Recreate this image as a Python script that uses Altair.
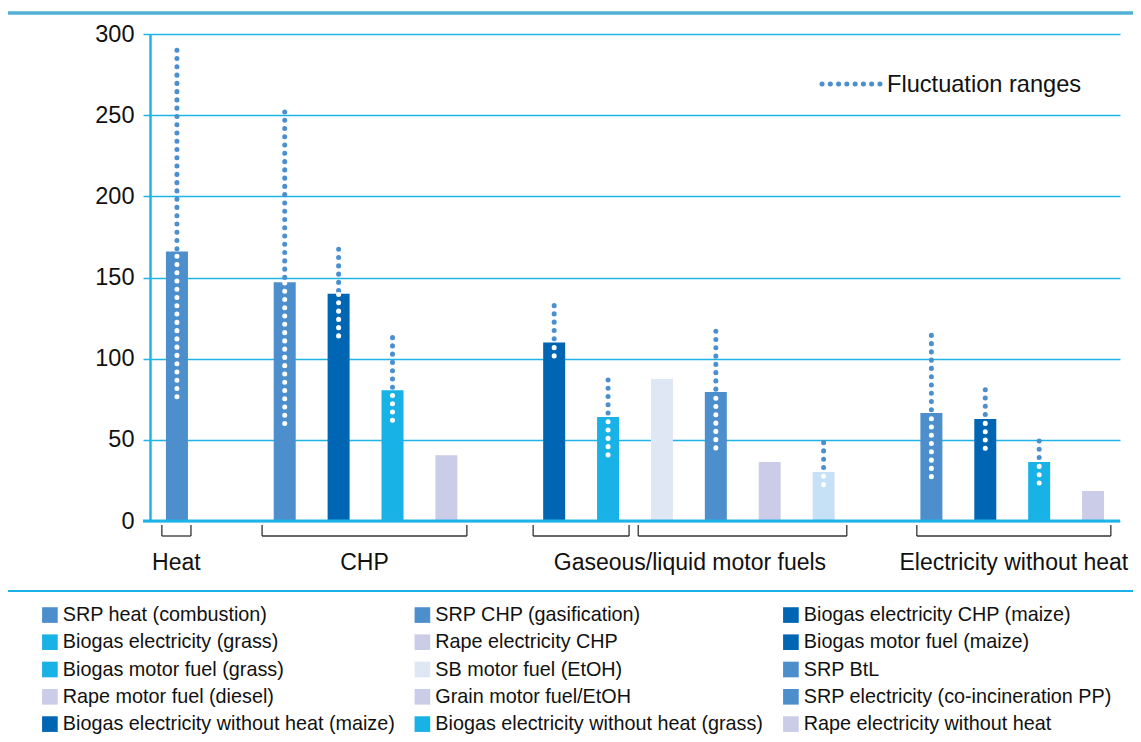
import altair as alt
import pandas as pd

FONT = "Liberation Sans"

# ---- data -------------------------------------------------------------
names = [
    "SRP heat (combustion)", "SRP CHP (gasification)", "Biogas electricity CHP (maize)",
    "Biogas electricity (grass)", "Rape electricity CHP", "Biogas motor fuel (maize)",
    "Biogas motor fuel (grass)", "SB motor fuel (EtOH)", "SRP BtL",
    "Rape motor fuel (diesel)", "Grain motor fuel/EtOH", "SRP electricity (co-incineration PP)",
    "Biogas electricity without heat (maize)", "Biogas electricity without heat (grass)",
    "Rape electricity without heat",
]
groups_of_bar = ["Heat", "CHP", "CHP", "CHP", "CHP",
                 "Gaseous/liquid motor fuels", "Gaseous/liquid motor fuels",
                 "Gaseous/liquid motor fuels", "Gaseous/liquid motor fuels",
                 "Gaseous/liquid motor fuels", "Gaseous/liquid motor fuels",
                 "Electricity without heat", "Electricity without heat",
                 "Electricity without heat", "Electricity without heat"]
values = [166, 147, 140, 80.5, 40.5, 110, 64, 87.5, 79.5, 36.3, 30.2, 66.5, 62.8, 36.4, 18.5]
range_low = [76.5, 60, 114, 62, None, 101.7, 40.7, None, 45, None, 22.4, 27.3, 44.8, 23.4, None]
range_high = [290, 252, 167.4, 113, None, 132.7, 86.9, None, 116.9, None, 48.3, 114.4, 80.9, 49.3, None]

bar_colors = ["#4d8fcc", "#4d8fcc", "#0066b3", "#19b2e6", "#cbcde8", "#0066b3",
              "#19b2e6", "#e0e7f4", "#4d8fcc", "#cbcde8", "#c6e1f5", "#4d8fcc",
              "#0066b3", "#19b2e6", "#cbcde8"]
legend_colors = ["#4d8fcc", "#4d8fcc", "#0066b3", "#19b2e6", "#cbcde8", "#0066b3",
                 "#19b2e6", "#e0e7f4", "#4d8fcc", "#cbcde8", "#cbcde8", "#4d8fcc",
                 "#0066b3", "#19b2e6", "#cbcde8"]

group_names = ["Heat", "CHP", "Gaseous/liquid motor fuels", "Electricity without heat"]
# brackets under the axis (in slot units), with the group they belong to
bracket_start = [0.22, 2.08, 7.11, 9.06, 14.23]
bracket_end = [0.76, 5.88, 8.89, 12.93, 17.83]
bracket_group = ["Heat", "CHP", "Gaseous/liquid motor fuels",
                 "Gaseous/liquid motor fuels", "Electricity without heat"]

# ---- derived tables ---------------------------------------------------
pos = []
slot = 0
prev = None
for g in groups_of_bar:
    if prev is not None and g != prev:
        slot += 1  # one empty slot between groups
    pos.append(slot + 0.5)
    slot += 1
    prev = g
n_slots = slot

bars = pd.DataFrame({"name": names, "value": values, "pos": pos,
                     "bar_color": bar_colors, "low": range_low, "high": range_high})
ranges = bars.dropna(subset=["low", "high"])

# legend is laid out column by column; reorder so it reads row by row (3 columns)
n_cols = 3
n_rows = (len(names) + n_cols - 1) // n_cols
legend_order = [r * n_cols + c for c in range(n_cols) for r in range(n_rows)]
legend_domain = [names[i] for i in legend_order]
legend_range = [legend_colors[i] for i in legend_order]

br = pd.DataFrame({"start": bracket_start, "end": bracket_end, "group": bracket_group})
br_ticks = pd.DataFrame({"x": bracket_start + bracket_end})
lab = br.groupby("group").agg(start=("start", "min"), end=("end", "max")).reset_index()
lab["mid"] = (lab["start"] + lab["end"]) / 2

W, H = 970, 487
xs = alt.Scale(domain=[0, n_slots], nice=False, zero=False, padding=0)
ys = alt.Scale(domain=[0, 300], nice=False)
GRID = "#1eb4e8"
DOT_BLUE = "#4a8fcf"
DASH = [0.1, 8.17]

bar_layer = alt.Chart(bars).mark_bar(size=22).encode(
    x=alt.X("pos:Q", scale=xs, axis=None),
    y=alt.Y("value:Q", scale=ys, title=None,
            axis=alt.Axis(values=[0, 50, 100, 150, 200, 250, 300], grid=True,
                          gridColor=GRID, gridWidth=1.5, domainColor=GRID, domainWidth=2.5,
                          tickColor=GRID, tickWidth=1.5, tickSize=7, labelPadding=9,
                          labelFontSize=23.5, labelFont=FONT, labelColor="#111")),
    color=alt.Color("bar_color:N", scale=None),
)

legend_layer = alt.Chart(bars).mark_square(opacity=0).encode(
    x=alt.X("pos:Q", scale=xs, axis=None),
    y=alt.Y("value:Q", scale=ys),
    color=alt.Color("name:N", scale=alt.Scale(domain=legend_domain, range=legend_range),
                    legend=alt.Legend(title=None, orient="none", legendX=-110, legendY=571,
                                      columns=n_cols, columnPadding=17.5, rowPadding=6.3,
                                      symbolType="square", symbolSize=245,
                                      symbolStrokeWidth=0, symbolOpacity=1,
                                      labelFontSize=19.8, labelFont=FONT, labelColor="#111",
                                      labelOffset=3, labelLimit=0, padding=0)),
)

zero_line = alt.Chart(pd.DataFrame({"z": [0]})).mark_rule(color=GRID, strokeWidth=3).encode(
    y=alt.Y("z:Q", scale=ys), x=alt.value(-7), x2=alt.value(W))

dots_blue = alt.Chart(ranges).mark_rule(color=DOT_BLUE, strokeWidth=5, strokeCap="round",
                                        strokeDash=DASH).encode(
    x=alt.X("pos:Q", scale=xs), y=alt.Y("high:Q", scale=ys), y2="value:Q")

dots_white = alt.Chart(ranges).mark_rule(color="white", strokeWidth=5, strokeCap="round",
                                         strokeDash=DASH).encode(
    x=alt.X("pos:Q", scale=xs), y=alt.Y("low:Q", scale=ys), y2="value:Q")

br_h = alt.Chart(br).mark_rule(color="#333", strokeWidth=1.3).encode(
    x=alt.X("start:Q", scale=xs), x2="end:Q", y=alt.value(502))
br_v = alt.Chart(br_ticks).mark_rule(color="#333", strokeWidth=1.3).encode(
    x=alt.X("x:Q", scale=xs), y=alt.value(491), y2=alt.value(502))

group_text = alt.Chart(lab).mark_text(fontSize=23, font=FONT, color="#111",
                                      baseline="middle", align="center").encode(
    x=alt.X("mid:Q", scale=xs), y=alt.value(529), text="group:N")

deco = pd.DataFrame({"label": ["Fluctuation ranges"]})
fl_dots = alt.Chart(deco).mark_rule(color=DOT_BLUE, strokeWidth=5, strokeCap="round",
                                     strokeDash=DASH).encode(
    x=alt.value(672), x2=alt.value(730), y=alt.value(50))
fl_text = alt.Chart(deco).mark_text(fontSize=23.6, font=FONT, color="#111",
                                    align="left", baseline="middle").encode(
    x=alt.value(737), y=alt.value(51), text="label:N")

top_line = alt.Chart(deco).mark_rule(color="#52b0d6", strokeWidth=3.5).encode(
    x=alt.value(-150), x2=alt.value(1000), y=alt.value(-21))
bottom_line = alt.Chart(deco).mark_rule(color="#1ab0e8", strokeWidth=2).encode(
    x=alt.value(-150), x2=alt.value(1000), y=alt.value(557))

chart = alt.layer(
    bar_layer, legend_layer, zero_line, dots_blue, dots_white,
    br_h, br_v, group_text, fl_dots, fl_text, top_line, bottom_line,
).properties(
    width=W, height=H,
    padding={"left": 142, "top": 26, "right": 13, "bottom": 213},
    autosize=alt.AutoSizeParams(type="none"),
).configure_view(stroke=None)

chart.save("out.html", embed_options={"renderer": "svg", "actions": False})
